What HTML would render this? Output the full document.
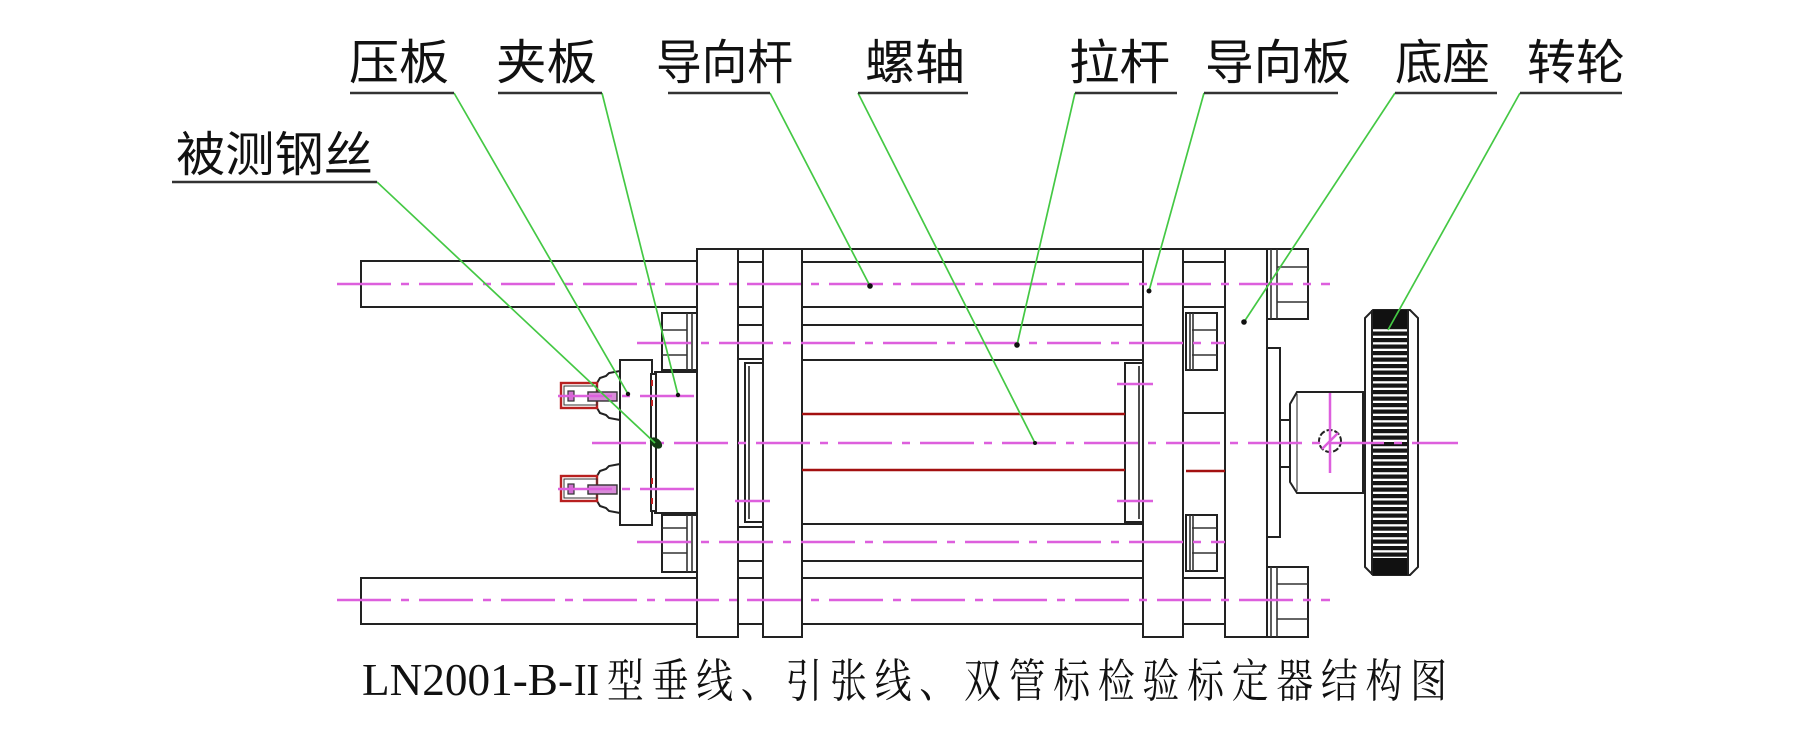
<!DOCTYPE html>
<html><head><meta charset="utf-8"><style>
html,body{margin:0;padding:0;background:#fff;}
svg{display:block;}
.lb{font-family:"Noto Sans CJK SC","WenQuanYi Zen Hei",sans-serif;font-size:48px;fill:#111;}
</style></head><body>
<svg width="1816" height="750" viewBox="0 0 1816 750" xmlns="http://www.w3.org/2000/svg">
<defs>
<pattern id="kn" patternUnits="userSpaceOnUse" x="0" y="0" width="10" height="6.5">
<rect width="10" height="4.2" fill="#151515"/>
</pattern>
</defs>
<rect width="1816" height="750" fill="#fff"/>

<!-- rods -->
<g fill="#fff" stroke="#222" stroke-width="2">
<rect x="361" y="261" width="336" height="46"/>
<rect x="361" y="578" width="336" height="46"/>
</g>

<!-- horizontal lines -->
<g stroke="#222" stroke-width="2" fill="none">
<line x1="697" y1="249" x2="1308" y2="249"/>
<line x1="738" y1="262" x2="763" y2="262"/>
<line x1="738" y1="307" x2="763" y2="307"/>
<line x1="738" y1="325" x2="763" y2="325"/>
<line x1="738" y1="359" x2="763" y2="359"/>
<line x1="738" y1="527" x2="763" y2="527"/>
<line x1="738" y1="561" x2="763" y2="561"/>
<line x1="738" y1="578" x2="763" y2="578"/>
<line x1="738" y1="624" x2="763" y2="624"/>
<line x1="802" y1="262" x2="1143" y2="262"/>
<line x1="802" y1="307" x2="1143" y2="307"/>
<line x1="802" y1="325" x2="1143" y2="325"/>
<line x1="802" y1="360" x2="1143" y2="360"/>
<line x1="802" y1="524" x2="1143" y2="524"/>
<line x1="802" y1="561" x2="1143" y2="561"/>
<line x1="802" y1="578" x2="1143" y2="578"/>
<line x1="802" y1="624" x2="1143" y2="624"/>
<line x1="1183" y1="262" x2="1225" y2="262"/>
<line x1="1183" y1="307" x2="1225" y2="307"/>
<line x1="1183" y1="413" x2="1225" y2="413"/>
<line x1="1183" y1="578" x2="1225" y2="578"/>
<line x1="1183" y1="624" x2="1225" y2="624"/>
</g>

<!-- plates -->
<g fill="#fff" stroke="#222" stroke-width="2">
<rect x="697" y="249" width="41" height="388"/>
<rect x="763" y="249" width="39" height="388"/>
<rect x="1143" y="249" width="40" height="388"/>
<rect x="1225" y="249" width="42" height="388"/>
<rect x="745" y="363" width="18" height="159"/>
<rect x="1125" y="363" width="18" height="159"/>
</g>
<g stroke="#222" stroke-width="1.6">
<line x1="749" y1="366" x2="749" y2="519"/>
<line x1="1139" y1="366" x2="1139" y2="519"/>
</g>

<!-- red lines -->
<g stroke="#a31010" stroke-width="2.6">
<line x1="802" y1="414" x2="1125" y2="414"/>
<line x1="802" y1="470" x2="1125" y2="470"/>
<line x1="1186" y1="471" x2="1225" y2="471"/>
</g>

<!-- nuts -->
<g fill="#fff" stroke="#222" stroke-width="2">
<rect x="662" y="313" width="35" height="57"/>
<rect x="662" y="515" width="35" height="57"/>
<rect x="1186" y="313" width="31" height="57"/>
<rect x="1186" y="515" width="31" height="56"/>
<rect x="1267" y="249" width="41" height="70"/>
<rect x="1267" y="567" width="41" height="70"/>
</g>
<g stroke="#333" stroke-width="1.6">
<line x1="662" y1="330" x2="687" y2="330"/><line x1="662" y1="355" x2="687" y2="355"/>
<line x1="687" y1="313" x2="687" y2="370"/><line x1="692" y1="313" x2="692" y2="370"/>
<line x1="662" y1="528" x2="687" y2="528"/><line x1="662" y1="553" x2="687" y2="553"/>
<line x1="687" y1="515" x2="687" y2="572"/><line x1="692" y1="515" x2="692" y2="572"/>
<line x1="1192" y1="330" x2="1217" y2="330"/><line x1="1192" y1="355" x2="1217" y2="355"/>
<line x1="1190" y1="313" x2="1190" y2="370"/><line x1="1193" y1="313" x2="1193" y2="370"/>
<line x1="1192" y1="528" x2="1217" y2="528"/><line x1="1192" y1="553" x2="1217" y2="553"/>
<line x1="1190" y1="515" x2="1190" y2="571"/><line x1="1193" y1="515" x2="1193" y2="571"/>
<line x1="1271" y1="249" x2="1271" y2="319"/><line x1="1277" y1="249" x2="1277" y2="319"/>
<line x1="1277" y1="267" x2="1308" y2="267"/><line x1="1277" y1="302" x2="1308" y2="302"/>
<line x1="1271" y1="567" x2="1271" y2="637"/><line x1="1277" y1="567" x2="1277" y2="637"/>
<line x1="1277" y1="584" x2="1308" y2="584"/><line x1="1277" y1="619" x2="1308" y2="619"/>
</g>

<!-- right side: thin plate, boss, hub -->
<g fill="#fff" stroke="#222" stroke-width="2">
<rect x="1267" y="348" width="13" height="189"/>
<rect x="1280" y="420" width="10" height="47"/>
<polygon points="1290,404 1297,392 1363,392 1363,493 1297,493 1290,482"/>
</g>
<line x1="1297" y1="394" x2="1297" y2="491" stroke="#444" stroke-width="1.2"/>

<!-- knurled wheel -->
<path d="M1373,310 L1410,310 L1418,318 L1418,567 L1410,575 L1373,575 L1365,567 L1365,318 Z" fill="#fff" stroke="#222" stroke-width="2"/>
<rect x="1372" y="310" width="36" height="265" fill="url(#kn)"/>
<rect x="1372" y="310" width="36" height="18" fill="#111"/>
<rect x="1372" y="558" width="36" height="17" fill="#111"/>
<line x1="1372" y1="310" x2="1372" y2="575" stroke="#222" stroke-width="2"/>
<line x1="1408" y1="310" x2="1408" y2="575" stroke="#222" stroke-width="2"/>

<!-- pin circle -->
<circle cx="1330" cy="441" r="11" fill="#fff" stroke="#222" stroke-width="2" stroke-dasharray="6 2"/>

<!-- press plate / clamp plate -->
<g fill="#fff" stroke="#222" stroke-width="2">
<rect x="655" y="372" width="42" height="141"/>
<rect x="620" y="360" width="32" height="165"/>
<rect x="651" y="374" width="5" height="137"/>
</g>
<g stroke="#c02020" stroke-width="2">
<line x1="652" y1="380" x2="652" y2="386"/><line x1="652" y1="400" x2="652" y2="406"/>
<line x1="652" y1="478" x2="652" y2="484"/><line x1="652" y1="498" x2="652" y2="504"/>
</g>

<!-- pins -->
<g id="pinA">
<polygon points="597,383 600,378 606,376 609,373 620,371 620,420 609,418 606,415 600,413 597,408" fill="#fff" stroke="#222" stroke-width="2"/>
<rect x="561" y="383" width="36" height="25" fill="#fff" stroke="#b82020" stroke-width="2.4"/>
<rect x="564" y="386" width="33" height="19" fill="none" stroke="#333" stroke-width="1"/>
<rect x="568" y="391" width="6" height="10" fill="#d070d0" stroke="#333" stroke-width="1.2"/>
<rect x="588" y="392" width="29" height="9" fill="#d88ad8" stroke="#333" stroke-width="1.4"/>
</g>
<g transform="translate(0,93)">
<polygon points="597,383 600,378 606,376 609,373 620,371 620,420 609,418 606,415 600,413 597,408" fill="#fff" stroke="#222" stroke-width="2"/>
<rect x="561" y="383" width="36" height="25" fill="#fff" stroke="#b82020" stroke-width="2.4"/>
<rect x="564" y="386" width="33" height="19" fill="none" stroke="#333" stroke-width="1"/>
<rect x="568" y="391" width="6" height="10" fill="#d070d0" stroke="#333" stroke-width="1.2"/>
<rect x="588" y="392" width="29" height="9" fill="#d88ad8" stroke="#333" stroke-width="1.4"/>
</g>

<!-- centerlines -->
<g stroke="#dd5fdd" stroke-width="2.5" stroke-dasharray="54 10 8 10" fill="none">
<line x1="337" y1="284" x2="1330" y2="284"/>
<line x1="337" y1="600" x2="1330" y2="600"/>
<line x1="637" y1="343" x2="1225" y2="343"/>
<line x1="637" y1="542" x2="1225" y2="542"/>
<line x1="558" y1="396" x2="698" y2="396"/>
<line x1="558" y1="489" x2="698" y2="489"/>
<line x1="592" y1="443" x2="1458" y2="443"/>
</g>
<g stroke="#dd5fdd" stroke-width="2.5" fill="none">
<line x1="735" y1="501" x2="770" y2="501"/>
<line x1="1117" y1="384" x2="1153" y2="384"/>
<line x1="1117" y1="501" x2="1153" y2="501"/>
<line x1="1330" y1="393" x2="1330" y2="473"/>
<line x1="1322" y1="449" x2="1338" y2="433"/>
</g>

<!-- wire dot -->
<ellipse cx="656" cy="443" rx="7" ry="4.5" transform="rotate(40 656 443)" fill="#123a12"/>

<!-- leaders -->
<g stroke="#44c844" stroke-width="1.7" fill="none">
<line x1="377" y1="182" x2="655" y2="443"/>
<line x1="454" y1="93" x2="628" y2="394"/>
<line x1="602" y1="93" x2="678" y2="395"/>
<line x1="770" y1="93" x2="870" y2="286"/>
<line x1="858" y1="93" x2="1035" y2="443"/>
<line x1="1075" y1="93" x2="1017" y2="345"/>
<line x1="1204" y1="93" x2="1149" y2="291"/>
<line x1="1395" y1="93" x2="1244" y2="322"/>
<line x1="1520" y1="93" x2="1388" y2="330"/>
</g>
<g fill="#111">
<circle cx="628" cy="394" r="2.2"/><circle cx="678" cy="395" r="2.2"/>
<circle cx="870" cy="286" r="2.8"/><circle cx="1035" cy="443" r="2"/>
<circle cx="1017" cy="345" r="2.8"/><circle cx="1149" cy="291" r="2.5"/>
<circle cx="1244" cy="322" r="2.8"/>
</g>

<!-- underlines -->
<g stroke="#333" stroke-width="2.4">
<line x1="172" y1="182" x2="377" y2="182"/>
<line x1="350" y1="93" x2="454" y2="93"/>
<line x1="498" y1="93" x2="602" y2="93"/>
<line x1="668" y1="93" x2="770" y2="93"/>
<line x1="858" y1="93" x2="968" y2="93"/>
<line x1="1075" y1="93" x2="1177" y2="93"/>
<line x1="1204" y1="93" x2="1338" y2="93"/>
<line x1="1395" y1="93" x2="1497" y2="93"/>
<line x1="1520" y1="93" x2="1622" y2="93"/>
</g>

<!-- labels -->
<text class="lb" x="176" y="171" textLength="197" lengthAdjust="spacingAndGlyphs">被测钢丝</text>
<text class="lb" x="349" y="79" textLength="100" lengthAdjust="spacingAndGlyphs">压板</text>
<text class="lb" x="496" y="79" textLength="101" lengthAdjust="spacingAndGlyphs">夹板</text>
<text class="lb" x="656" y="79" textLength="137" lengthAdjust="spacingAndGlyphs">导向杆</text>
<text class="lb" x="865" y="79" textLength="100" lengthAdjust="spacingAndGlyphs">螺轴</text>
<text class="lb" x="1069" y="79" textLength="101" lengthAdjust="spacingAndGlyphs">拉杆</text>
<text class="lb" x="1205" y="79" textLength="146" lengthAdjust="spacingAndGlyphs">导向板</text>
<text class="lb" x="1395" y="79" textLength="95" lengthAdjust="spacingAndGlyphs">底座</text>
<text class="lb" x="1527" y="79" textLength="98" lengthAdjust="spacingAndGlyphs">转轮</text>

<!-- caption -->
<text x="362" y="695" font-family="Liberation Serif, serif" font-size="46" fill="#111" textLength="211" lengthAdjust="spacingAndGlyphs">LN2001-B-</text>
<text x="574" y="695" font-family="Liberation Serif, serif" font-size="46" fill="#111" textLength="25" lengthAdjust="spacingAndGlyphs">II</text>
<text transform="translate(607,697) scale(0.8,1)" x="0" y="0" font-family="'Liberation Serif','Noto Serif CJK SC',serif" font-size="46" fill="#111" textLength="1050" lengthAdjust="spacing">型垂线、引张线、双管标检验标定器结构图</text>
</svg>
</body></html>
